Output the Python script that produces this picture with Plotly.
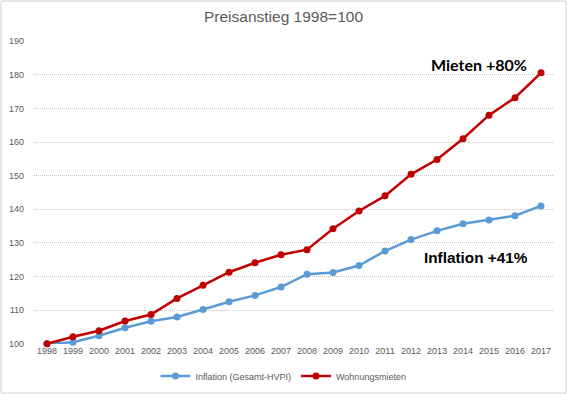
import plotly.graph_objects as go

years = [str(y) for y in range(1998, 2018)]
inflation = [100.0, 100.5, 102.4, 104.8, 106.7, 108.0, 110.2, 112.5, 114.4, 116.9,
             120.7, 121.2, 123.3, 127.6, 131.0, 133.6, 135.7, 136.8, 138.1, 141.0]
mieten = [100.0, 102.1, 103.9, 106.8, 108.7, 113.5, 117.4, 121.3, 124.1, 126.5,
          128.0, 134.2, 139.5, 144.0, 150.4, 154.8, 161.0, 168.0, 173.2, 180.6]
series_names = ["Inflation (Gesamt-HVPI)", "Wohnungsmieten"]
y_ticks = list(range(100, 200, 10))

W, H = 567, 394
ML, MR, MT, MB = 34, 13, 41, 50
PW, PH = W - ML - MR, H - MT - MB

def px_x(p):
    return (p - ML) / PW

def px_y(p):
    return (H - MB - p) / PH

GREY = "#595959"
FONT = "Liberation Sans, Arial, sans-serif"

fig = go.Figure()
fig.add_trace(go.Scatter(x=years, y=inflation, name=series_names[0], mode="lines+markers",
                         line=dict(color="#5B9BD5", width=2.5),
                         marker=dict(color="#5B9BD5", size=7), cliponaxis=False))
fig.add_trace(go.Scatter(x=years, y=mieten, name=series_names[1], mode="lines+markers",
                         line=dict(color="#C00000", width=2.5),
                         marker=dict(color="#C00000", size=7), cliponaxis=False))

fig.update_layout(
    width=W, height=H,
    margin=dict(l=ML, r=MR, t=MT, b=MB, autoexpand=False),
    paper_bgcolor="white", plot_bgcolor="white",
    font=dict(family=FONT, size=9, color=GREY),
    title=dict(text="Preisanstieg 1998=100", x=0.5, xref="container", xanchor="center",
               y=1 - 17 / H, yref="container", yanchor="middle",
               font=dict(family=FONT, size=15.5, color=GREY)),
    showlegend=True,
    legend=dict(orientation="h", x=0.5, xref="container", xanchor="center",
                y=1 - 376 / H, yref="container", yanchor="middle",
                font=dict(family=FONT, size=9, color=GREY),
                bgcolor="rgba(0,0,0,0)", itemwidth=30, tracegroupgap=0),
    xaxis=dict(type="category", range=[-0.5, len(years) - 0.5], showgrid=False,
               showline=False, zeroline=False, ticks="", automargin=False,
               tickfont=dict(family=FONT, size=9, color=GREY), tickangle=0),
    yaxis=dict(range=[99.95, 190.05], tickvals=y_ticks, showgrid=True, gridcolor="#C4C4C4",
               griddash="1px,1px", gridwidth=1, zeroline=False, showline=False, ticks="",
               automargin=False, ticklabelstandoff=9,
               tickfont=dict(family=FONT, size=9, color=GREY)),
    annotations=[
        dict(text="<b>Mieten +80%</b>", xref="paper", yref="paper",
             x=px_x(529), y=px_y(65), xanchor="right", yanchor="middle", showarrow=False,
             font=dict(family="Lato, Carlito, sans-serif", size=16, color="black")),
        dict(text="<b>Inflation +41%</b>", xref="paper", yref="paper",
             x=px_x(530), y=px_y(257), xanchor="right", yanchor="middle", showarrow=False,
             font=dict(family=FONT, size=15.3, color="black")),
    ],
    shapes=[
        dict(type="rect", xref="paper", yref="paper",
             x0=px_x(1), x1=px_x(566), y0=px_y(393), y1=px_y(1),
             line=dict(color="#D0D0D0", width=1), layer="below"),
    ],
)

fig.write_html("out.html", config={"displayModeBar": False},
               post_script="document.body.style.margin='0';")
